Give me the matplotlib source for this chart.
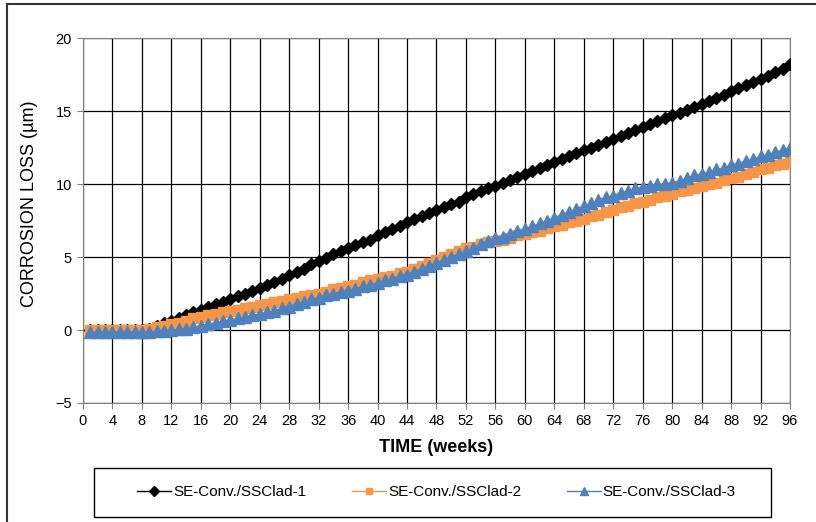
import matplotlib
matplotlib.use("Agg")
import matplotlib.pyplot as plt
from matplotlib.patches import Rectangle
from matplotlib.lines import Line2D

plt.rcParams['font.family'] = ['Liberation Sans', 'DejaVu Sans']

# 데이터 (주 단위, 1~96주)
weeks = list(range(1, 97))

clad1 = [0.0, 0.0, 0.0, 0.0, 0.0, 0.0, 0.0, 0.0, 0.1, 0.3,
         0.5, 0.6, 0.8, 1.0, 1.2, 1.4, 1.6, 1.8, 1.9, 2.1,
         2.3, 2.5, 2.7, 2.9, 3.1, 3.3, 3.5, 3.8, 4.0, 4.2,
         4.5, 4.7, 4.9, 5.2, 5.4, 5.6, 5.8, 6.0, 6.2, 6.5,
         6.7, 6.9, 7.1, 7.4, 7.6, 7.8, 8.0, 8.2, 8.4, 8.6,
         8.8, 9.1, 9.3, 9.5, 9.7, 9.9, 10.1, 10.3, 10.5, 10.7,
         10.9, 11.1, 11.3, 11.5, 11.7, 11.9, 12.1, 12.3, 12.5, 12.7,
         12.9, 13.1, 13.3, 13.5, 13.7, 13.9, 14.1, 14.3, 14.5, 14.7,
         14.9, 15.1, 15.3, 15.5, 15.7, 15.9, 16.1, 16.4, 16.6, 16.8,
         17.0, 17.2, 17.4, 17.7, 17.9, 18.2]

clad2 = [0.0, 0.0, 0.0, 0.0, 0.0, 0.0, 0.0, 0.0, 0.1, 0.2,
         0.3, 0.4, 0.5, 0.6, 0.8, 0.9, 1.0, 1.1, 1.2, 1.3,
         1.4, 1.5, 1.6, 1.7, 1.8, 1.9, 2.0, 2.1, 2.2, 2.3,
         2.4, 2.5, 2.6, 2.8, 2.9, 3.0, 3.1, 3.3, 3.4, 3.5,
         3.6, 3.7, 3.9, 4.0, 4.2, 4.4, 4.6, 4.8, 5.0, 5.2,
         5.4, 5.6, 5.7, 5.9, 6.0, 6.1, 6.2, 6.3, 6.5, 6.6,
         6.7, 6.8, 7.0, 7.1, 7.2, 7.4, 7.5, 7.6, 7.8, 7.9,
         8.1, 8.2, 8.4, 8.5, 8.7, 8.8, 8.9, 9.1, 9.2, 9.3,
         9.5, 9.6, 9.7, 9.9, 10.0, 10.1, 10.3, 10.4, 10.5, 10.7,
         10.8, 11.0, 11.1, 11.3, 11.4, 11.6]

clad3 = [-0.15, -0.15, -0.15, -0.15, -0.15, -0.15, -0.15, -0.15, -0.15, -0.1,
         -0.05, 0.0, 0.05, 0.1, 0.2, 0.3, 0.4, 0.5, 0.6, 0.7,
         0.8, 0.9, 1.0, 1.1, 1.2, 1.3, 1.5, 1.6, 1.8, 1.9,
         2.1, 2.2, 2.4, 2.5, 2.6, 2.7, 2.8, 3.0, 3.1, 3.2,
         3.4, 3.5, 3.7, 3.8, 4.0, 4.2, 4.4, 4.6, 4.8, 5.0,
         5.2, 5.4, 5.6, 5.9, 6.1, 6.3, 6.4, 6.6, 6.8, 6.9,
         7.1, 7.3, 7.5, 7.7, 7.9, 8.1, 8.3, 8.5, 8.7, 8.9,
         9.1, 9.2, 9.4, 9.5, 9.7, 9.8, 9.9, 10.0, 10.0, 10.1,
         10.2, 10.4, 10.6, 10.7, 10.8, 11.0, 11.1, 11.3, 11.4, 11.6,
         11.7, 11.9, 12.0, 12.2, 12.3, 12.5]

labels = ['SE-Conv./SSClad-1', 'SE-Conv./SSClad-2', 'SE-Conv./SSClad-3']
colors = ['black', '#F79646', '#4F81BD']
x_ticks = list(range(0, 97, 4))
y_ticks = [-5, 0, 5, 10, 15, 20]

fig = plt.figure(figsize=(8.16, 5.22), dpi=100)
ax = fig.add_axes([0.1017, 0.228, 0.8664, 0.699])

ax.plot(weeks, clad1, color=colors[0], marker='D', markersize=6, linewidth=1, zorder=3)
ax.plot(weeks, clad2, color=colors[1], marker='s', markersize=7, linewidth=1, zorder=4)
ax.plot(weeks, clad3, color=colors[2], marker='^', markersize=8, linewidth=1, zorder=5)

ax.set_xlim(0, 96)
ax.set_ylim(-5, 20)
ax.set_xticks(x_ticks)
ax.set_yticks(y_ticks)
ax.grid(True, color='black', linewidth=0.9)
ax.set_axisbelow(True)
for s in ax.spines.values():
    s.set_color('#808080')
ax.tick_params(direction='out', length=4, labelsize=10.5, color='#808080', pad=4)

ax.set_xlabel('TIME (weeks)', fontsize=13, fontweight='bold', labelpad=8)
ax.set_ylabel('CORROSION LOSS (µm)', fontsize=13)
ax.yaxis.set_label_coords(-0.063, 0.547)

# 범례 (테두리 상자는 따로 그림)
fig.patches.append(Rectangle((0.115, 0.0096), 0.830, 0.094, transform=fig.transFigure,
                             fill=False, edgecolor='black', linewidth=1))
handles = [
    Line2D([], [], color=colors[0], marker='D', markersize=5, linewidth=1),
    Line2D([], [], color=colors[1], marker='s', markersize=5, linewidth=1),
    Line2D([], [], color=colors[2], marker='^', markersize=6, linewidth=1),
]
fig.legend(handles, labels, loc='center', bbox_to_anchor=(0.535, 0.057), ncol=3,
           fontsize=11, frameon=False, handlelength=2.2, handletextpad=0.15,
           columnspacing=3.0)

# 바깥 테두리 (위쪽, 왼쪽만 보임)
fig.add_artist(Line2D([0.008, 0.008], [0.0, 0.992], transform=fig.transFigure, color='#333333', linewidth=1.5))
fig.add_artist(Line2D([0.008, 1.0], [0.992, 0.992], transform=fig.transFigure, color='#333333', linewidth=1.5))

fig.savefig('out.png', dpi=100)
